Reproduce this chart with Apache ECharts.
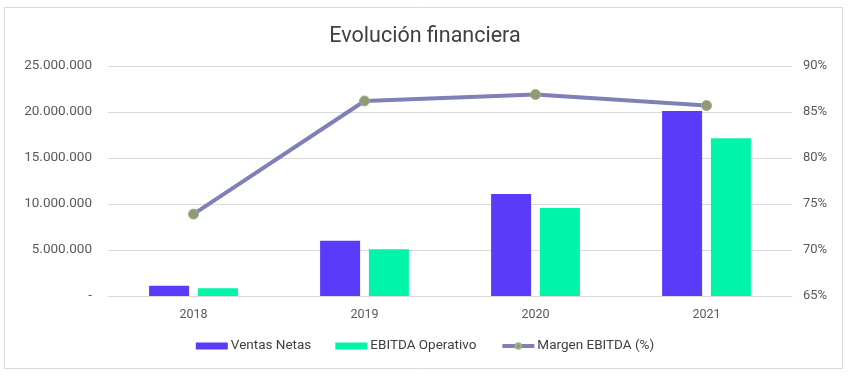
<!DOCTYPE html>
<html><head><meta charset="utf-8">
<script src="https://cdn.jsdelivr.net/npm/echarts@6/dist/echarts.min.js"></script>
<style>html,body{margin:0;padding:0;background:#fff}#c{width:850px;height:377px}</style>
</head><body><div id="c"></div>
<script>
const categories = ['2018', '2019', '2020', '2021'];
const ventasNetas = [1120000, 6010000, 11090000, 20100000];
const ebitdaOperativo = [840000, 5070000, 9570000, 17140000];
const margenEbitda = [73.9, 86.2, 86.9, 85.7];
const seriesNames = ['Ventas Netas', 'EBITDA Operativo', 'Margen EBITDA (%)'];
const titleText = 'Evolución financiera';

const font = 'Roboto, "Noto Sans", sans-serif';
function fmtMiles(v) {
  if (v === 0) return '-';
  return String(Math.round(v)).replace(/\B(?=(\d{3})+(?!\d))/g, '.');
}
const chart = echarts.init(document.getElementById('c'), null, {renderer: 'canvas'});
chart.setOption({
  animation: false,
  textStyle: {fontFamily: font},
  graphic: [{
    type: 'rect', shape: {x: 4.5, y: 7.5, width: 838, height: 361},
    style: {fill: 'none', stroke: '#d9d9d9', lineWidth: 1}, silent: true
  }],
  title: {
    text: titleText, left: 'center', top: 21,
    textStyle: {fontFamily: font, fontSize: 21.5, fontWeight: 'normal', color: '#404040'}
  },
  legend: {
    bottom: 19, left: 'center', itemWidth: 32, itemHeight: 7, itemGap: 24,
    textStyle: {fontFamily: font, fontSize: 13.5, color: '#404040', padding: [0, 0, 0, -2]},
    data: [
      {name: seriesNames[0], icon: 'rect'},
      {name: seriesNames[1], icon: 'rect'},
      {name: seriesNames[2], itemStyle: {color: '#8f9a78'}, lineStyle: {width: 4, color: '#7f80b6'}}
    ]
  },
  grid: {left: 108, right: 58, top: 66, bottom: 81, containLabel: false},
  xAxis: {
    type: 'category', data: categories,
    axisLine: {show: true, lineStyle: {color: '#d9d9d9'}},
    axisTick: {show: false},
    axisLabel: {fontFamily: font, fontSize: 12.5, color: '#595959', margin: 12}
  },
  yAxis: [{
    type: 'value', min: 0, max: 25000000, interval: 5000000,
    axisLine: {show: false}, axisTick: {show: false},
    splitLine: {lineStyle: {color: '#d9d9d9', width: 1}},
    axisLabel: {fontFamily: font, fontSize: 13.5, color: '#595959', margin: 16, formatter: fmtMiles}
  }, {
    type: 'value', min: 65, max: 90, interval: 5,
    axisLine: {show: false}, axisTick: {show: false}, splitLine: {show: false},
    axisLabel: {fontFamily: font, fontSize: 13, color: '#595959', margin: 11, formatter: v => v + '%'}
  }],
  series: [{
    name: seriesNames[0], type: 'bar', data: ventasNetas, barWidth: 40, barGap: '22%',
    itemStyle: {color: '#5b3bfa'}
  }, {
    name: seriesNames[1], type: 'bar', data: ebitdaOperativo, barWidth: 40, barGap: '22%',
    itemStyle: {color: '#00f5a8'}
  }, {
    name: seriesNames[2], type: 'line', yAxisIndex: 1, data: margenEbitda,
    symbol: 'circle', symbolSize: 10, z: 5,
    lineStyle: {color: '#7f80b6', width: 4},
    itemStyle: {color: '#8f9a78', borderColor: '#a3b07c', borderWidth: 1}
  }]
});
</script></body></html>
